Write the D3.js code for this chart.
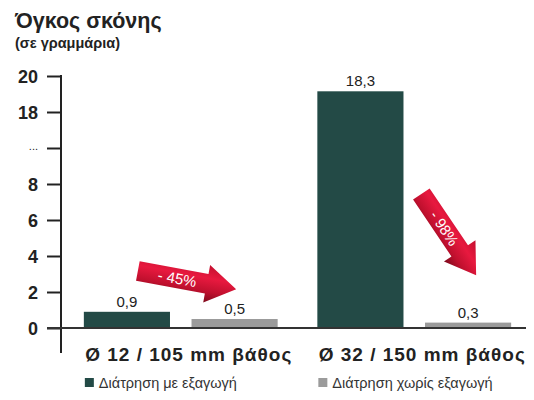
<!DOCTYPE html>
<html>
<head>
<meta charset="utf-8">
<script src="https://cdn.jsdelivr.net/npm/d3@7"></script>
<style>
  html, body { margin: 0; padding: 0; background: #fff; }
  svg { display: block; font-family: "Liberation Sans", Arial, Helvetica, sans-serif; }
</style>
</head>
<body>
<svg id="chart" width="534" height="400"></svg>
<script>
// ---- data ----
const groups = ["Ø 12 / 105 mm βάθος", "Ø 32 / 150 mm βάθος"];
const seriesNames = ["Διάτρηση με εξαγωγή", "Διάτρηση χωρίς εξαγωγή"];
const withExtraction = [0.9, 18.3];
const withoutExtraction = [0.5, 0.3];
const tickLabels = ["0", "2", "4", "6", "8", "...", "18", "20"];
const changeLabels = ["- 45%", "- 98%"];
const title = "Όγκος σκόνης";
const subtitle = "(σε γραμμάρια)";

// ---- styles ----
const colors = ["#234a46", "#9b9b9b"];
const axisColor = "#222";
const greekFont = "'Liberation Sans', Arial, sans-serif";

const svg = d3.select("#chart");

// scales
const yTick = d3.scalePoint().domain(tickLabels).range([328, 76]);
const y = d3.scaleLinear()
  .domain([0, 8, 20])
  .range([yTick("0"), yTick("8"), yTick("20")]);

const x0 = d3.scaleBand().domain(groups).range([64, 531]).paddingInner(0.17).paddingOuter(0.085);
const x1 = d3.scaleBand().domain(seriesNames).range([0, x0.bandwidth()]).paddingInner(0.2).paddingOuter(0);
const color = d3.scaleOrdinal().domain(seriesNames).range(colors);

const fmt = v => String(v).replace(".", ",");

// title
svg.append("text").attr("x", 15).attr("y", 28)
  .attr("font-family", greekFont)
  .attr("font-size", 21.5).attr("font-weight", "bold").attr("fill", "#222")
  .text(title);
svg.append("text").attr("x", 15).attr("y", 48)
  .attr("font-family", greekFont)
  .attr("font-size", 14.5).attr("font-weight", "bold").attr("fill", "#222")
  .text(subtitle);

// bars
const rows = groups.map((g, i) => ({
  group: g,
  values: [
    { series: seriesNames[0], value: withExtraction[i] },
    { series: seriesNames[1], value: withoutExtraction[i] }
  ]
}));

const gGroups = svg.append("g").selectAll("g").data(rows).join("g")
  .attr("transform", d => `translate(${x0(d.group)},0)`);

gGroups.selectAll("rect").data(d => d.values).join("rect")
  .attr("x", d => x1(d.series))
  .attr("width", x1.bandwidth())
  .attr("y", d => y(d.value))
  .attr("height", d => y(0) - y(d.value))
  .attr("fill", d => color(d.series));

gGroups.selectAll("text.val").data(d => d.values).join("text")
  .attr("class", "val")
  .attr("x", d => x1(d.series) + x1.bandwidth() / 2)
  .attr("y", d => y(d.value) - 5)
  .attr("text-anchor", "middle")
  .attr("font-size", 15)
  .attr("fill", "#222")
  .text(d => fmt(d.value));

// y axis
const axisG = svg.append("g").attr("transform", "translate(61,0)")
  .call(d3.axisLeft(yTick).tickSize(14).tickPadding(9));
axisG.select(".domain").remove();
axisG.selectAll(".tick line").attr("stroke", axisColor).attr("stroke-width", 2);
axisG.selectAll(".tick text")
  .attr("fill", "#222")
  .attr("font-family", "'Liberation Sans', Arial, sans-serif")
  .attr("font-size", d => d === "..." ? 11 : 18)
  .attr("font-weight", d => d === "..." ? "normal" : "bold")
  .attr("dy", d => d === "..." ? "0.1em" : "0.36em");

svg.append("line").attr("x1", 61).attr("x2", 61).attr("y1", 75).attr("y2", 353)
  .attr("stroke", axisColor).attr("stroke-width", 2);
svg.append("line").attr("x1", 47).attr("x2", 526).attr("y1", y(0)).attr("y2", y(0))
  .attr("stroke", "#333").attr("stroke-width", 2);

// category labels
svg.append("g").selectAll("text").data(groups).join("text")
  .attr("x", d => x0(d) + x0.bandwidth() / 2 + 8)
  .attr("y", 361)
  .attr("text-anchor", "middle")
  .attr("font-size", 19)
  .attr("letter-spacing", 1)
  .attr("font-weight", "bold")
  .attr("fill", "#222")
  .text(d => d);

// legend
const legend = svg.append("g").selectAll("g").data(seriesNames).join("g")
  .attr("transform", (d, i) => `translate(${x0(groups[i]) + 1},378)`);
legend.append("rect").attr("width", 9).attr("height", 9).attr("fill", d => color(d));
legend.append("text").attr("x", 14).attr("y", 9.5)
  .attr("font-family", greekFont)
  .attr("font-size", 14.5).attr("fill", "#333").text(d => d);

// arrows (annotations)
const defs = svg.append("defs");
const grad = defs.append("linearGradient").attr("id", "arrowGrad")
  .attr("x1", 0).attr("y1", 0).attr("x2", 0).attr("y2", 1);
grad.append("stop").attr("offset", "0%").attr("stop-color", "#c4102f");
grad.append("stop").attr("offset", "35%").attr("stop-color", "#e8193f");
grad.append("stop").attr("offset", "70%").attr("stop-color", "#c0102e");
grad.append("stop").attr("offset", "100%").attr("stop-color", "#7d0a1c");

const arrowPath = "M0,-10 L70,-10 L70,-19 L100,0 L70,19 L70,10 L0,10 Z";
const arrowGeo = [
  { x: x0(groups[0]) + 54, y: 271, angle: 10.5, len: 1.0, tx: 40 },
  { x: x0(groups[1]) + 104, y: 194, angle: 56, len: 0.98, tx: 42 }
];
const arrows = svg.append("g").selectAll("g").data(arrowGeo).join("g")
  .attr("transform", d => `translate(${d.x},${d.y}) rotate(${d.angle}) scale(${d.len},1)`);
arrows.append("path").attr("d", arrowPath).attr("fill", "url(#arrowGrad)");
arrows.append("text")
  .attr("x", d => d.tx).attr("y", 0).attr("dy", "0.36em")
  .attr("text-anchor", "middle")
  .attr("font-size", 15)
  .attr("fill", "#fff")
  .text((d, i) => changeLabels[i]);
</script>
</body>
</html>
